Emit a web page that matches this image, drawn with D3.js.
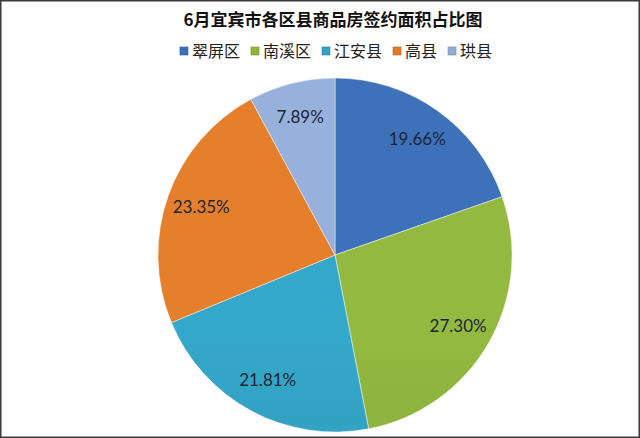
<!DOCTYPE html>
<html>
<head>
<meta charset="utf-8">
<script src="https://cdn.jsdelivr.net/npm/d3@7"></script>
<style>
  html, body { margin: 0; padding: 0; background: #fff; }
  svg { display: block; }
</style>
</head>
<body>
<div id="app"></div>
<script>
const width = 640, height = 438;

// data
const titleText = '6月宜宾市各区县商品房签约面积占比图';
const districts = ['翠屏区', '南溪区', '江安县', '高县', '珙县'];
const shares = [19.66, 27.30, 21.81, 23.35, 7.89];
const sliceColors = ['#3b6fb6', '#8fb43e', '#33a3c4', '#e07b2a', '#93acd6'];

const center = { x: 335, y: 255 };
const radius = 177;

const svg = d3.select('#app')
    .append('svg')
    .attr('width', width)
    .attr('height', height);

svg.append('rect')
    .attr('x', 0.75).attr('y', 0.75)
    .attr('width', width - 1.5).attr('height', height - 1.5)
    .attr('fill', '#fff')
    .attr('stroke', '#3a3a3a')
    .attr('stroke-width', 1.5);

// title
svg.append('text')
    .attr('x', 333)
    .attr('y', 26)
    .attr('text-anchor', 'middle')
    .attr('font-family', '"Noto Sans CJK SC", sans-serif')
    .attr('font-weight', 'bold')
    .attr('font-size', 17)
    .attr('fill', '#111')
    .text(titleText);

// gradients, light at top, a bit darker at the bottom
const defs = svg.append('defs');
sliceColors.forEach((c, i) => {
    const g = defs.append('linearGradient')
        .attr('id', 'grad' + i)
        .attr('gradientUnits', 'userSpaceOnUse')
        .attr('x1', 0).attr('y1', center.y - radius)
        .attr('x2', 0).attr('y2', center.y + radius);
    g.append('stop').attr('offset', '0%').attr('stop-color', d3.color(c).brighter(0.08));
    g.append('stop').attr('offset', '100%').attr('stop-color', d3.color(c).darker(0.3));
});

// legend
const legend = svg.append('g');
let lx = 0;
districts.forEach((name, i) => {
    const item = legend.append('g').attr('transform', `translate(${lx},0)`);
    item.append('rect')
        .attr('x', 0).attr('y', -4)
        .attr('width', 8).attr('height', 8)
        .attr('fill', sliceColors[i])
        .attr('stroke', d3.color(sliceColors[i]).darker(0.6))
        .attr('stroke-width', 0.6);
    const t = item.append('text')
        .attr('x', 12).attr('y', 5.5)
        .attr('font-family', '"Noto Sans CJK SC", sans-serif')
        .attr('font-size', 16)
        .attr('fill', '#222')
        .text(name);
    lx += 12 + t.node().getComputedTextLength() + 11;
});
lx -= 11;
legend.attr('transform', `translate(${336 - lx / 2},51)`);

// pie
const pie = d3.pie().sort(null).startAngle(0).endAngle(2 * Math.PI);
const arcs = pie(shares);
const arc = d3.arc().innerRadius(0).outerRadius(radius);
const labelArc = d3.arc().innerRadius(142).outerRadius(142);

const chart = svg.append('g')
    .attr('transform', `translate(${center.x},${center.y})`);

chart.selectAll('.slice')
    .data(arcs)
    .join('path')
    .attr('class', 'slice')
    .attr('d', arc)
    .attr('fill', (d, i) => `url(#grad${i})`)
    .attr('stroke', 'rgba(255,255,255,0.45)')
    .attr('stroke-width', 1);

chart.selectAll('.label')
    .data(arcs)
    .join('text')
    .attr('class', 'label')
    .attr('transform', d => `translate(${labelArc.centroid(d)})`)
    .attr('text-anchor', 'middle')
    .attr('dy', '0.35em')
    .attr('font-family', 'Lato, "Open Sans", sans-serif')
    .attr('font-size', 17)
    .attr('fill', '#1c2533')
    .text(d => d.data.toFixed(2) + '%');
</script>
</body>
</html>
